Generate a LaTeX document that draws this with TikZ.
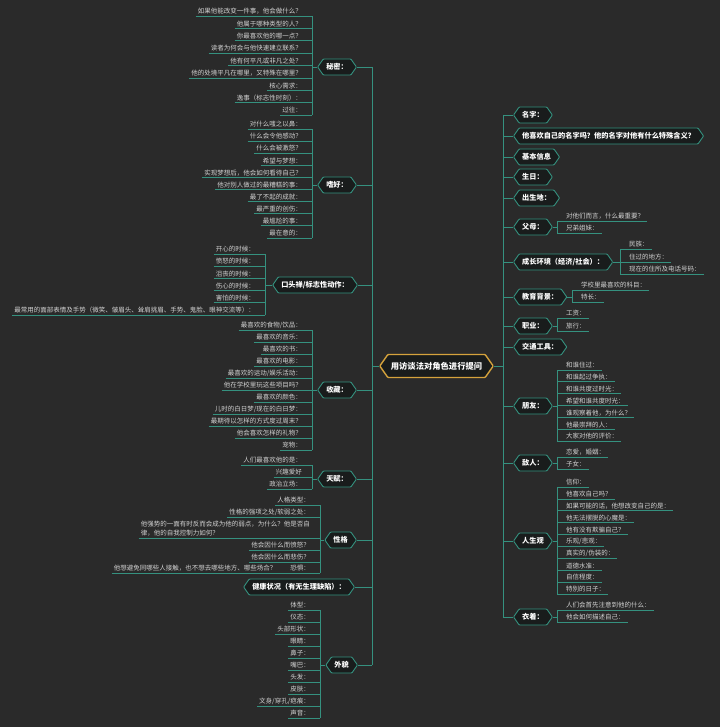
\documentclass[tikz,border=0pt]{standalone}
\usepackage{fontspec}
\setmainfont{Noto Sans CJK SC}
\usepackage{tikz}
\usetikzlibrary{shapes.symbols}
\definecolor{bgc}{HTML}{2A2A2A}
\definecolor{linec}{HTML}{35917F}
\definecolor{hexc}{HTML}{191C1C}
\definecolor{rootc}{HTML}{D4A23C}
\definecolor{leafc}{HTML}{D2D2D2}
\tikzstyle{link}=[draw=linec, line width=0.8pt]
\tikzstyle{hexn}=[signal, signal to=east and west, signal pointer angle=110,
  draw=linec, fill=hexc, line width=0.9pt, text=white, minimum height=16pt,
  inner xsep=3pt, inner ysep=0pt, rounded corners=0.8pt,
  font=\bfseries\fontsize{7.2}{8}\selectfont]
\tikzstyle{lhex}=[hexn, anchor=east]
\tikzstyle{rhex}=[hexn, anchor=west]
\tikzstyle{rootn}=[hexn, draw=rootc, line width=1.4pt, minimum height=23pt,
  font=\bfseries\fontsize{8.3}{9}\selectfont]
\tikzstyle{lleaf}=[anchor=south east, text=leafc, inner xsep=2pt, inner ysep=1.5pt,
  font=\fontsize{6.5}{9.5}\selectfont]
\tikzstyle{rleaf}=[lleaf, anchor=south west, inner xsep=3pt]

\begin{document}
\begin{tikzpicture}[x=1pt, y=-1pt]
\fill[bgc] (0,0) rectangle (720,727);
\useasboundingbox (0,0) rectangle (720,727);

\node[rootn] (root) at (436.5,366) {用访谈法对角色进行提问};
\coordinate (lt) at (372,0);
\coordinate (rt) at (503,0);

% left side
\node[lhex] (secret) at (357,67) {秘密：};
\node[lhex] (hobby) at (357,185) {嗜好：};
\node[lhex] (habit) at (358,285) {口头禅/标志性动作：};
\node[lhex] (collect) at (357,390) {收藏：};
\node[lhex] (talent) at (357,479) {天赋：};
\node[lhex] (trait) at (357,540) {性格};
\node[lhex] (health) at (355,587) {健康状况（有无生理缺陷）：};
\node[lhex] (look) at (358,665) {外貌};

\coordinate (secret-sp) at (312,0);
\foreach \t [count=\i] in {{如果他能改变一件事，他会做什么？},{他属于哪种类型的人？},
  {你最喜欢他的哪一点？},{读者为何会与他快速建立联系？},{他有何平凡或非凡之处？},
  {他的处境平凡在哪里，又特殊在哪里？},{核心需求：},{逸事（标志性时刻）：},{过往：}}
  \node[lleaf] (secret\i) at (304,{3.6+12.4*\i}) {\t};

\coordinate (hobby-sp) at (312,0);
\foreach \t [count=\i] in {{对什么嗤之以鼻：},{什么会令他感动？},{什么会被激怒？},
  {希望与梦想：},{实现梦想后，他会如何看待自己？},{他对别人做过的最糟糕的事：},
  {最了不起的成就：},{最严重的创伤：},{最尴尬的事：},{最在意的：}}
  \node[lleaf] (hobby\i) at (304,{116.9+12.1*\i}) {\t};

\coordinate (habit-sp) at (265,0);
\foreach \t [count=\i] in {{开心的时候：},{愤怒的时候：},{沮丧的时候：},{伤心的时候：},
  {害怕的时候：},{最常用的面部表情及手势（微笑、皱眉头、耸肩挑眉、手势、鬼脸、眼神交流等）：}}
  \node[lleaf] (habit\i) at (257,{241.8+12.2*\i}) {\t};

\coordinate (collect-sp) at (312,0);
\foreach \t [count=\i] in {{最喜欢的食物/饮品：},{最喜欢的音乐：},{最喜欢的书：},
  {最喜欢的电影：},{最喜欢的运动/娱乐活动：},{他在学校里玩这些项目吗？},{最喜欢的颜色：},
  {儿时的白日梦/现在的白日梦：},{最期待以怎样的方式度过周末？},{他会喜欢怎样的礼物？},{宠物：}}
  \node[lleaf] (collect\i) at (304,{318+12*\i}) {\t};

\coordinate (talent-sp) at (312,0);
\foreach \t [count=\i] in {{人们最喜欢他的是：},{兴趣爱好},{政治立场：}}
  \node[lleaf] (talent\i) at (304,{453+12*\i}) {\t};

\coordinate (trait-sp) at (320,0);
\node[lleaf] (trait1) at (312,505) {人格类型：};
\node[lleaf] (trait2) at (312,517) {性格的强项之处/软弱之处：};
\node[lleaf, align=left] (trait3) at (312,538)
  {他强势的一面有时反而会成为他的弱点，为什么？他是否自\\律，他的自我控制力如何？};
\node[lleaf] (trait4) at (312,550) {他会因什么而愤怒？};
\node[lleaf] (trait5) at (312,562) {他会因什么而悲伤？};
\node[lleaf] (trait6) at (312,573)
  {他想避免同哪些人接触，也不想去哪些地方、哪些场合？\hspace{14pt}恐惧：};

\coordinate (look-sp) at (320,0);
\foreach \t [count=\i] in {{体型：},{仪态：},{头部形状：},{眼睛：},{鼻子：},{嘴巴：},
  {头发：},{皮肤：},{文身/穿孔/疤痕：},{声音：}}
  \node[lleaf] (look\i) at (312,{598+12*\i}) {\t};

% right side
\node[rhex] (name) at (513,115) {名字：};
\node[rhex] (meaning) at (513,136) {他喜欢自己的名字吗？他的名字对他有什么特殊含义？};
\node[rhex] (basic) at (513,157) {基本信息};
\node[rhex] (birth) at (513,177) {生日：};
\node[rhex] (place) at (513,198) {出生地：};
\node[rhex] (parent) at (513,227) {父母：};
\node[rhex] (grow) at (513,262) {成长环境（经济/社会）：};
\node[rhex] (edu) at (513,297) {教育背景：};
\node[rhex] (job) at (513,326) {职业：};
\node[rhex] (traffic) at (513,347) {交通工具：};
\node[rhex] (friend) at (513,406) {朋友：};
\node[rhex] (enemy) at (513,463) {敌人：};
\node[rhex] (life) at (513,541) {人生观};
\node[rhex] (dress) at (513,617) {衣着：};

\coordinate (parent-sp) at (557,0);
\foreach \y/\t [count=\i] in {221/{对他们而言，什么最重要？},233/{兄弟姐妹：}}
  \node[rleaf] (parent\i) at (563,\y) {\t};

\coordinate (grow-sp) at (620,0);
\foreach \y/\t [count=\i] in {249/{民族：},262/{住过的地方：},274/{现在的住所及电话号码：}}
  \node[rleaf] (grow\i) at (626,\y) {\t};

\coordinate (edu-sp) at (572,0);
\foreach \y/\t [count=\i] in {290/{学校里最喜欢的科目：},302/{特长：}}
  \node[rleaf] (edu\i) at (578,\y) {\t};

\coordinate (job-sp) at (557,0);
\foreach \y/\t [count=\i] in {318/{工资：},331/{旅行：}}
  \node[rleaf] (job\i) at (563,\y) {\t};

\coordinate (friend-sp) at (557,0);
\foreach \t [count=\i] in {{和谁住过：},{和谁起过争执：},{和谁共度过时光：},
  {希望和谁共度时光：},{谁观察着他，为什么？},{他最崇拜的人：},{大家对他的评价：}}
  \node[rleaf] (friend\i) at (563,{358.15+11.85*\i}) {\t};

\coordinate (enemy-sp) at (557,0);
\foreach \y/\t [count=\i] in {457/{恋爱，婚姻：},469/{子女：}}
  \node[rleaf] (enemy\i) at (563,\y) {\t};

\coordinate (life-sp) at (557,0);
\foreach \t [count=\i] in {{信仰：},{他喜欢自己吗？},{如果可能的话，他想改变自己的是：},
  {他无法摆脱的心魔是：},{他有没有欺骗自己？},{乐观/悲观：},{真实的/伪装的：},
  {道德水准：},{自信程度：},{特别的日子：}}
  \node[rleaf] (life\i) at (563,{475.1+11.9*\i}) {\t};

\coordinate (dress-sp) at (557,0);
\foreach \y/\t [count=\i] in {610/{人们会首先注意到他的什么：},622/{他会如何描述自己：}}
  \node[rleaf] (dress\i) at (563,\y) {\t};

% connectors
\draw[link] (lt |- secret.east) -- (lt |- look.east);
\foreach \n in {secret,hobby,habit,collect,talent,trait,health,look}
  \draw[link] (\n.east) -- (\n.east -| lt);
\draw[link] (root.west) -- (root.west -| lt);
\draw[link] (rt |- name.west) -- (rt |- dress.west);
\foreach \n in {name,meaning,basic,birth,place,parent,grow,edu,job,traffic,friend,enemy,life,dress}
  \draw[link] (\n.west) -- (\n.west -| rt);
\draw[link] (root.east) -- (root.east -| rt);

\foreach \n/\k in {secret/9,hobby/10,habit/6,collect/11,talent/3,trait/6,look/10}{
  \foreach \i in {1,...,\k}
    \draw[link] (\n\i.south west) -- (\n\i.south -| \n-sp);
  \draw[link] (\n1.south -| \n-sp) -- (\n\k.south -| \n-sp);
  \draw[link] (\n.west) -- (\n.west -| \n-sp);
}
\foreach \n/\k in {parent/2,grow/3,edu/2,job/2,friend/7,enemy/2,life/10,dress/2}{
  \foreach \i in {1,...,\k}
    \draw[link] (\n-sp |- \n\i.south) -- (\n\i.south east);
  \draw[link] (\n-sp |- \n1.south) -- (\n-sp |- \n\k.south);
  \draw[link] (\n.east) -- (\n.east -| \n-sp);
}
\end{tikzpicture}
\end{document}
